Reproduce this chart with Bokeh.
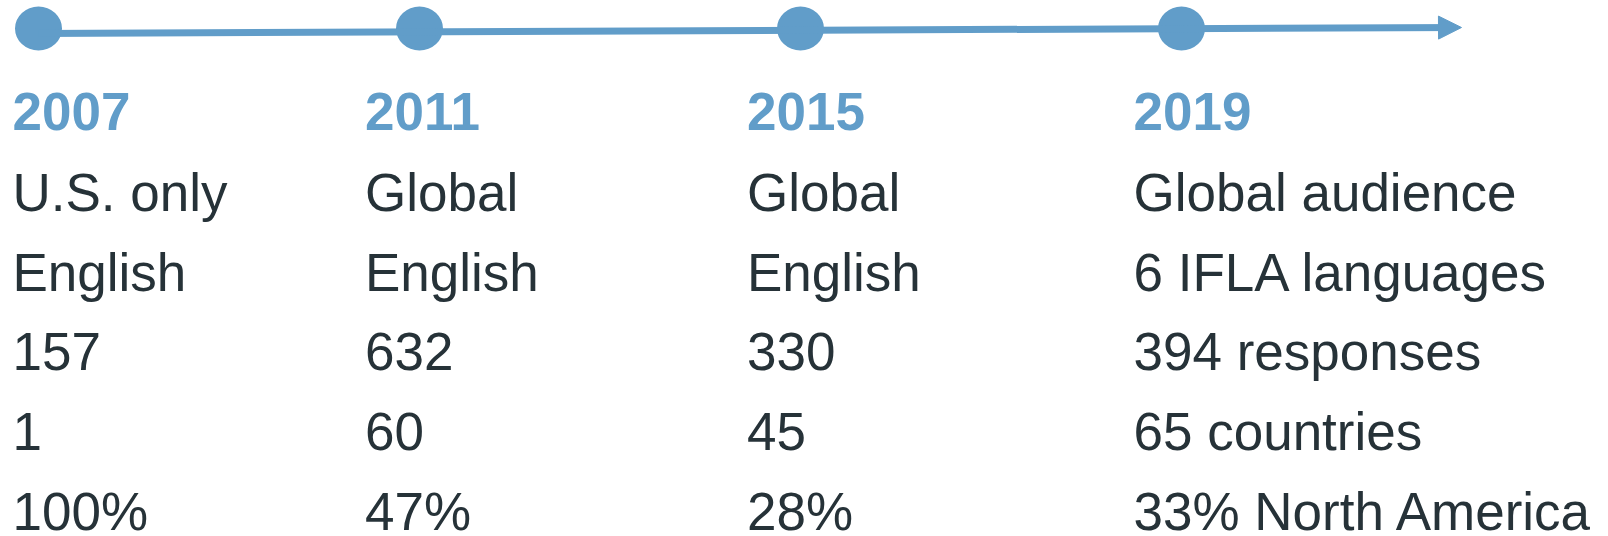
from bokeh.plotting import figure
from bokeh.models import Range1d, ColumnDataSource, Arrow, NormalHead
from bokeh.core.properties import value
from bokeh.embed import file_html
from bokeh.resources import INLINE

# ---- data ----
years = [2007, 2011, 2015, 2019]
scope = ["U.S. only", "Global", "Global", "Global audience"]
languages = ["English", "English", "English", "6 IFLA languages"]
responses = [157, 632, 330, 394]
countries = [1, 60, 45, 65]
north_america_pct = [100, 47, 28, 33]

# ---- layout ----
W, H = 1608, 536
px_per_year = (1181 - 38) / 12
x0 = years[0] - 38 / px_per_year
BLUE = "#619DC9"
DARK = "#263238"
FONT = value("Liberation Sans")
FS = "53px"
col_offsets = [-26, -54.5, -53.5, -48]
dot_y = 28
line_y_start, line_y_end = 33, 27
arrow_tip_year = years[-1] + 280 / px_per_year
text_shift = 20
year_baseline = 131 - text_shift
row_baselines = [b - text_shift for b in [211.5, 291.5, 371, 451, 531]]

p = figure(width=W, height=H, x_range=Range1d(x0, x0 + W / px_per_year),
           y_range=Range1d(H, 0), x_axis_type=None, y_axis_type=None,
           toolbar_location=None, output_backend="svg", min_border=0,
           outline_line_color=None, background_fill_color="white",
           border_fill_color="white")
p.grid.visible = False

# timeline arrow
p.add_layout(Arrow(x_start=years[0], y_start=line_y_start,
                   x_end=arrow_tip_year, y_end=line_y_end,
                   line_color=BLUE, line_width=7,
                   end=NormalHead(size=23, fill_color=BLUE, line_color=BLUE, line_width=1)))

# dots
src = ColumnDataSource(dict(x=years, y=[dot_y] * len(years)))
p.ellipse(x="x", y="y", width=47, height=44, width_units="screen",
          height_units="screen", source=src, fill_color=BLUE, line_color=None)

# year labels
ysrc = ColumnDataSource(dict(x=years, y=[year_baseline] * len(years),
                             t=[str(y) for y in years], off=col_offsets))
p.text(x="x", y="y", text="t", x_offset="off", source=ysrc, text_font=FONT,
       text_font_size=FS, text_font_style="bold", text_color=BLUE,
       text_baseline="alphabetic", text_align="left")

resp_lbl = [str(v) for v in responses]
resp_lbl[-1] += " responses"
ctry_lbl = [str(v) for v in countries]
ctry_lbl[-1] += " countries"
na_lbl = [f"{v}%" for v in north_america_pct]
na_lbl[-1] += " North America"

rows = [scope, languages, resp_lbl, ctry_lbl, na_lbl]
for labels, base in zip(rows, row_baselines):
    s = ColumnDataSource(dict(x=years, y=[base] * len(years), t=labels, off=col_offsets))
    p.text(x="x", y="y", text="t", x_offset="off", source=s, text_font=FONT,
           text_font_size=FS, text_color=DARK, text_baseline="alphabetic",
           text_align="left")

open("out.html", "w").write(file_html(p, INLINE))
